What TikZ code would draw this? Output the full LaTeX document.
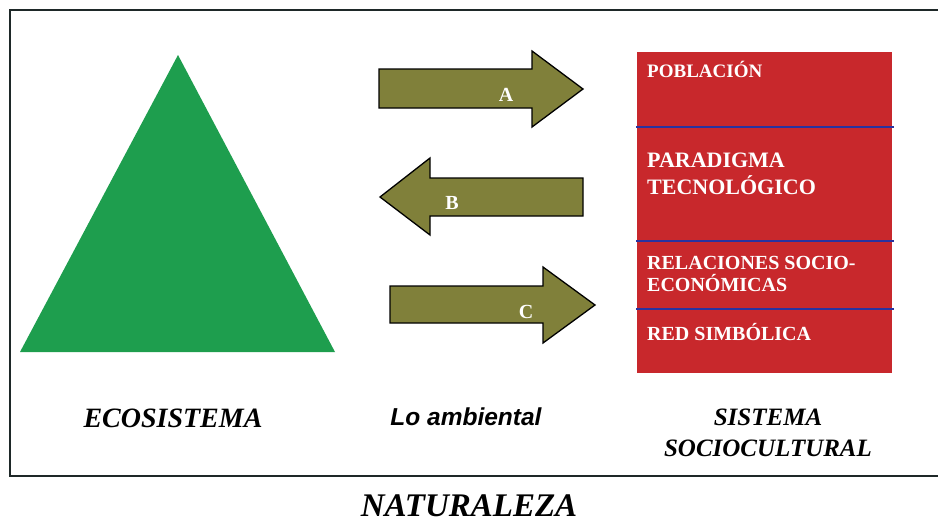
\documentclass[tikz,border=0pt]{standalone}
\usepackage{fontspec}
\setmainfont{Liberation Serif}
\setsansfont{Liberation Sans}

\definecolor{ecogreen}{RGB}{30,158,78}
\definecolor{socred}{RGB}{200,40,44}
\definecolor{arrowolive}{RGB}{128,128,58}
\definecolor{lineblue}{RGB}{40,50,160}
\definecolor{framegray}{RGB}{30,40,40}

\tikzstyle{flecha}=[draw=black,line width=1.3pt,fill=arrowolive,line join=miter]
\tikzstyle{letra}=[text=white,inner sep=0pt,font=\bfseries\fontsize{20}{20}\selectfont]
\tikzstyle{caja}=[text=white,inner sep=0pt,anchor=base west,align=left]
\tikzstyle{titulo}=[inner sep=0pt,anchor=base,align=center,font=\bfseries\itshape]

\begin{document}
\begin{tikzpicture}[x=1pt,y=-1pt]
        \useasboundingbox (0,0) rectangle (938,522);
        %% The frame
        \draw[framegray,line width=2pt] (945,10) -- (10,10) -- (10,476) -- (945,476);

        %% The ecosystem
        \fill[ecogreen] (178,55) -- (335,352) -- (20,352) -- cycle;

        %%% The arrows
        \draw[flecha] (379,69) -- (532,69) -- (532,51) -- (583,89) -- (532,127) -- (532,108) -- (379,108) -- cycle;
        \draw[flecha] (583,178) -- (430,178) -- (430,158) -- (380,197) -- (430,235) -- (430,216) -- (583,216) -- cycle;
        \draw[flecha] (390,286) -- (543,286) -- (543,267) -- (595,305) -- (543,343) -- (543,323) -- (390,323) -- cycle;
        \node[letra] (a) at (506,95) {A};
        \node[letra] (b) at (452,203) {B};
        \node[letra] (c) at (526,312) {C};

        %% The sociocultural system
        \fill[socred] (637,52) rectangle (892,373);
        \foreach \y in {127,241,309}
        \draw[lineblue,line width=1.6pt] (636,\y) -- (894,\y);
        %% last line baselines
        \node[caja,font=\bfseries\fontsize{19}{19}\selectfont] (poblacion) at (647,77) {POBLACIÓN};
        \node[caja,font=\bfseries\fontsize{22}{27}\selectfont] (paradigma) at (647,194) {PARADIGMA\\TECNOLÓGICO};
        \node[caja,font=\bfseries\fontsize{20}{22}\selectfont] (relaciones) at (647,291) {RELACIONES SOCIO-\\ECONÓMICAS};
        \node[caja,font=\bfseries\fontsize{20}{20}\selectfont] (red) at (647,340) {RED SIMBÓLICA};

        %%% Titles
        \node[titulo,font=\bfseries\itshape\fontsize{28}{28}\selectfont] (ecosistema) at (173,427) {ECOSISTEMA};
        \node[titulo,font=\sffamily\bfseries\itshape\fontsize{24.5}{24.5}\selectfont] (ambiental) at (466,425) {Lo ambiental};
        \node[titulo,font=\bfseries\itshape\fontsize{25}{31}\selectfont] (sistema) at (768,456) {SISTEMA\\SOCIOCULTURAL};
        \node[titulo,font=\bfseries\itshape\fontsize{33}{33}\selectfont] (naturaleza) at (469,516) {NATURALEZA};
    \end{tikzpicture}
\end{document}
